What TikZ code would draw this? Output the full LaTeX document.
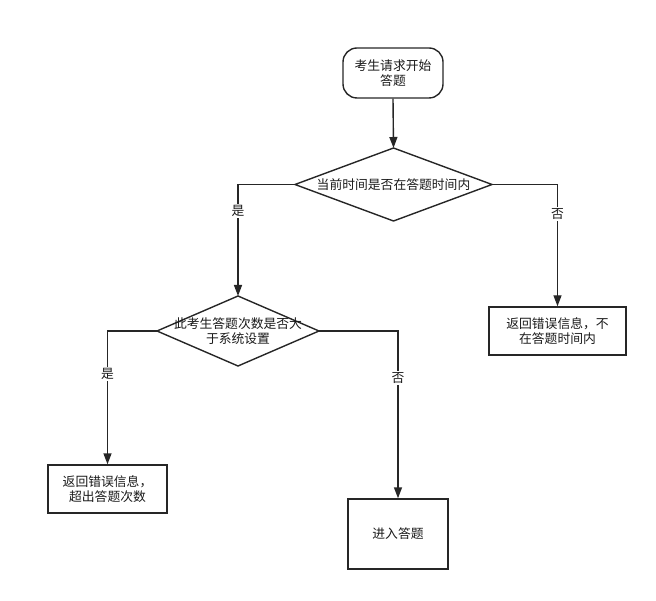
\documentclass[tikz,border=0pt]{standalone}
\usepackage{fontspec}
\setmainfont{Noto Sans CJK SC}
\usetikzlibrary{shapes.geometric,arrows.meta}
\begin{document}
\begin{tikzpicture}[x=1pt,y=-1pt,
  every node/.style={font=\fontsize{12.8}{15.5}\selectfont, text=black!90},
  box/.style={draw=black!85, line width=1.4pt, minimum width=#1, inner sep=0pt, align=center},
  conn/.style={draw=black!85, line width=1.4pt, -{Triangle[length=11pt,width=8pt]}},
  lab/.style={fill=white, inner sep=1.5pt}
]
\useasboundingbox (0,0) rectangle (656,601);
\node[box=100pt, minimum height=50pt, rounded corners=14pt] (start) at (393,73) {考生请求开始\\答题};
\path[draw=black!85, line width=1.4pt] (295,184.5) coordinate (d1w) -- (393.5,148) coordinate (d1n) -- (492,184.5) coordinate (d1e) -- (393.5,221) -- cycle;
\node (d1) at (393.5,184.5) {当前时间是否在答题时间内};
\path[draw=black!85, line width=1.4pt] (157,331) coordinate (d2w) -- (238,296) coordinate (d2n) -- (319,331) coordinate (d2e) -- (238,366) -- cycle;
\node[align=center] (d2) at (238,331) {此考生答题次数是否大\\于系统设置};
\node[box=137pt, minimum height=48pt] (err1) at (557.5,331) {返回错误信息，不\\在答题时间内};
\node[box=119pt, minimum height=48pt] (err2) at (107.5,489) {返回错误信息，\\超出答题次数};
\node[box=100pt, minimum height=70pt] (enter) at (398,534) {进入答题};
\draw[conn] (start.south) -- (d1n);
\draw[conn] (d1w) -| node[lab, pos=0.62] (y1) {是} (d2n);
\draw[conn] (d1e) -| node[lab, pos=0.62] (n1) {否} (err1.north);
\draw[conn] (d2w) -| node[lab, pos=0.66] (y2) {是} (err2.north);
\draw[conn] (d2e) -| node[lab, pos=0.64] (n2) {否} (enter.north);
\end{tikzpicture}
\end{document}
